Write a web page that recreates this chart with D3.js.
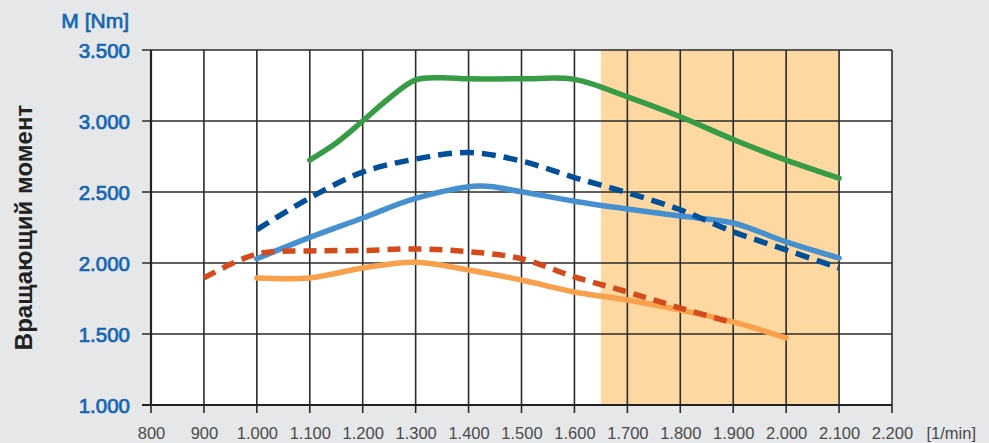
<!DOCTYPE html>
<html><head><meta charset="utf-8">
<script src="https://cdn.jsdelivr.net/npm/d3@7"></script>
<style>
html,body{margin:0;padding:0;background:#e6e7e9;}
svg{display:block;font-family:"Liberation Sans",Arial,sans-serif;}
</style></head>
<body><svg id="c" width="989" height="443"></svg>
<script>
const xTicks = [800,900,1000,1100,1200,1300,1400,1500,1600,1700,1800,1900,2000,2100,2200];
const yTicks = [1000,1500,2000,2500,3000,3500];
const band = [1650, 2100];

const greenRpm  = [1100,1150,1200,1250,1300,1350,1400,1500,1600,1700,1800,1900,2000,2100];
const greenNm   = [2725,2845,3000,3160,3290,3305,3297,3297,3293,3170,3030,2870,2725,2598];
const dblueRpm  = [1000,1100,1200,1300,1400,1500,1600,1700,1800,1900,2000,2100];
const dblueNm   = [2235,2458,2640,2732,2778,2718,2602,2495,2375,2220,2092,1965];
const lblueRpm  = [1000,1100,1200,1300,1420,1500,1600,1700,1800,1900,2000,2100];
const lblueNm   = [2030,2180,2317,2455,2542,2502,2435,2380,2331,2282,2148,2035];
const redRpm    = [900,1000,1100,1200,1300,1400,1500,1600,1700,1800,1900];
const redNm     = [1895,2063,2085,2088,2099,2080,2030,1902,1796,1683,1578];
const orangeRpm = [1000,1100,1200,1300,1400,1500,1600,1700,1800,1900,2000];
const orangeNm  = [1895,1895,1965,2005,1951,1880,1796,1740,1669,1585,1472];

const svg = d3.select("#c");
const x = d3.scaleLinear().domain([800,2200]).range([151,892]);
const y = d3.scaleLinear().domain([1000,3500]).range([405,50]);
const fmt = d => d3.format(",")(d).replace(",",".");

// plot background
svg.append("rect").attr("x",x(800)).attr("y",y(3500)).attr("width",x(2200)-x(800)).attr("height",y(1000)-y(3500)).attr("fill","#fff");
svg.append("rect").attr("x",x(band[0])).attr("y",y(3500)).attr("width",x(band[1])-x(band[0])).attr("height",y(1000)-y(3500)).attr("fill","#fdd9a1");

// grid
const g = svg.append("g").attr("stroke","#2b2b2b").attr("stroke-width",1.6);
xTicks.forEach(t=>g.append("line").attr("x1",x(t)).attr("x2",x(t)).attr("y1",y(3500)).attr("y2",y(1000)+8));
yTicks.forEach(t=>g.append("line").attr("x1",x(800)-9).attr("x2",x(2200)).attr("y1",y(t)).attr("y2",y(t)));
svg.append("line").attr("x1",x(800)).attr("x2",x(800)).attr("y1",y(3500)).attr("y2",y(1000)).attr("stroke","#222").attr("stroke-width",2.2);
svg.append("line").attr("x1",x(800)-9).attr("x2",x(2200)).attr("y1",y(1000)).attr("y2",y(1000)).attr("stroke","#222").attr("stroke-width",2.2);

// axes labels
const xa = svg.append("g").attr("transform",`translate(0,${y(1000)})`)
  .call(d3.axisBottom(x).tickValues(xTicks).tickSize(0).tickPadding(0).tickFormat(fmt));
xa.select(".domain").remove();
xa.selectAll("text").attr("y",34).attr("dy",0).attr("font-size",16.5).attr("fill","#4a4a4a").attr("font-family","Liberation Sans, Arial, sans-serif");

const ya = svg.append("g").attr("transform",`translate(${x(800)},0)`)
  .call(d3.axisLeft(y).tickValues(yTicks).tickSize(0).tickPadding(21).tickFormat(fmt));
ya.select(".domain").remove();
ya.selectAll("text").attr("font-size",20.5).attr("fill","#1565b3").attr("stroke","#1565b3").attr("stroke-width",0.7)
  .attr("dy","0.36em").attr("font-family","Liberation Sans, Arial, sans-serif");

svg.append("text").attr("x",129).attr("y",28).attr("text-anchor","end").attr("font-size",21).attr("fill","#1565b3")
  .attr("stroke","#1565b3").attr("stroke-width",0.7).text("M [Nm]");
svg.append("text").attr("x",976).attr("y",439).attr("text-anchor","end").attr("font-size",16.5).attr("fill","#4a4a4a").text("[1/min]");
svg.append("text").attr("transform","translate(32,227.5) rotate(-90)").attr("text-anchor","middle").attr("font-size",24).attr("font-weight","bold").attr("fill","#222").text("Вращающий момент");

// lines
const line = d3.line().x(d=>x(d[0])).y(d=>y(d[1])).curve(d3.curveCatmullRom.alpha(0.5));
function draw(rpm, nm, color, dash){
  const p = svg.append("path").datum(rpm.map((r,i)=>[r,nm[i]])).attr("d",line)
    .attr("fill","none").attr("stroke",color).attr("stroke-width",5.5).attr("stroke-linejoin","round");
  if(dash) p.attr("stroke-dasharray",dash).attr("stroke-linecap","butt");
  else p.attr("stroke-linecap","round");
}
draw(orangeRpm, orangeNm, "#f8a04c");
draw(lblueRpm, lblueNm, "#4690d0");
draw(greenRpm, greenNm, "#389c46");
draw(redRpm, redNm, "#d34b1c", "13,8");
draw(dblueRpm, dblueNm, "#004f98", "14,8");
</script></body></html>
